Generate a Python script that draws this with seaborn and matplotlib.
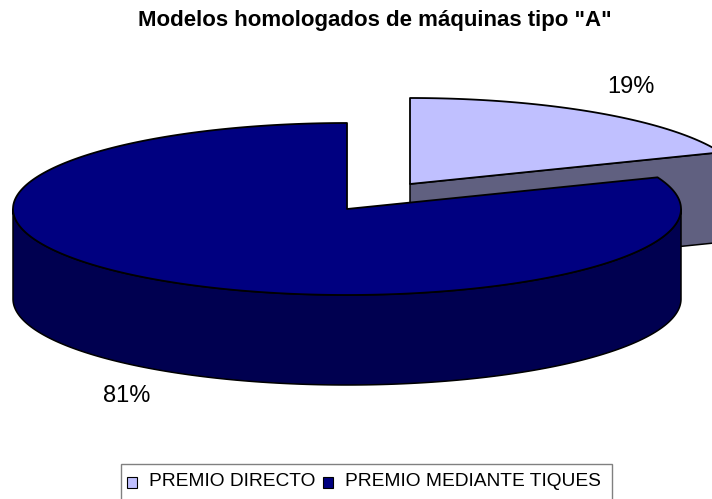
import numpy as np
import matplotlib
matplotlib.use("Agg")
import matplotlib.pyplot as plt
from matplotlib.patches import Rectangle
import seaborn as sns

title_text = 'Modelos homologados de máquinas tipo "A"'
categories = ["PREMIO DIRECTO", "PREMIO MEDIANTE TIQUES"]
shares = [19, 81]
labels = ["19%", "81%"]
top_colors = ["#C0C0FF", "#000080"]
side_colors = ["#606080", "#000050"]

sns.set_theme(style="white")
plt.rcParams["font.family"] = ["Liberation Sans", "DejaVu Sans"]

fig = plt.figure(figsize=(7.12, 4.99), dpi=100)
ax = fig.add_axes([0, 0, 1, 1])
ax.set_xlim(0, 712)
ax.set_ylim(499, 0)
ax.axis("off")

RX, RY, DEPTH = 334, 86, 90
centers = [(410, 184), (347, 209)]
frac = np.array(shares) / sum(shares)
split = np.pi / 2 - 2 * np.pi * frac[0]
spans = [(split, np.pi / 2), (np.pi / 2, split + 2 * np.pi)]


def rim(c, a0, a1, n=300):
    t = np.linspace(a0, a1, n)
    return c[0] + RX * np.cos(t), c[1] - RY * np.sin(t)


def side(c, a0, a1, color):
    x, y = rim(c, a0, a1)
    px = np.r_[x, x[::-1]]
    py = np.r_[y, y[::-1] + DEPTH]
    ax.fill(px, py, facecolor=color, edgecolor="black", lw=1.1, joinstyle="round")


def top(c, a0, a1, color):
    x, y = rim(c, a0, a1)
    ax.fill(np.r_[c[0], x], np.r_[c[1], y], facecolor=color, edgecolor="black", lw=1.3, joinstyle="round")


# small slice: cut face, top
c, (a0, a1) = centers[0], spans[0]
ex, ey = rim(c, a0, a0, 1)
ax.fill([c[0], ex[0], ex[0], c[0]], [c[1], ey[0], ey[0] + DEPTH, c[1] + DEPTH],
        facecolor=side_colors[0], edgecolor="black", lw=1.1)
top(c, a0, a1, top_colors[0])

# large slice: outer front wall, top
c, (a0, a1) = centers[1], spans[1]
side(c, np.pi, 2 * np.pi, side_colors[1])
top(c, a0, a1, top_colors[1])

# text
ax.text(375, 20, title_text, ha="center", va="center", fontsize=16, fontweight="bold", color="black")
ax.text(631, 87, labels[0], ha="center", va="center", fontsize=17, color="black")
ax.text(127, 396, labels[1], ha="center", va="center", fontsize=17, color="black")

# legend
ax.add_patch(Rectangle((120.5, 463.5), 491, 50, facecolor="white", edgecolor="#808080", lw=1.0))
for xm, xt, col, name in zip([127, 323], [149, 345], top_colors, categories):
    ax.add_patch(Rectangle((xm, 477), 10, 11, facecolor=col, edgecolor="black", lw=0.8))
    ax.text(xt, 481, name, ha="left", va="center", fontsize=13.8, color="black")

fig.savefig("out.png", dpi=100)
